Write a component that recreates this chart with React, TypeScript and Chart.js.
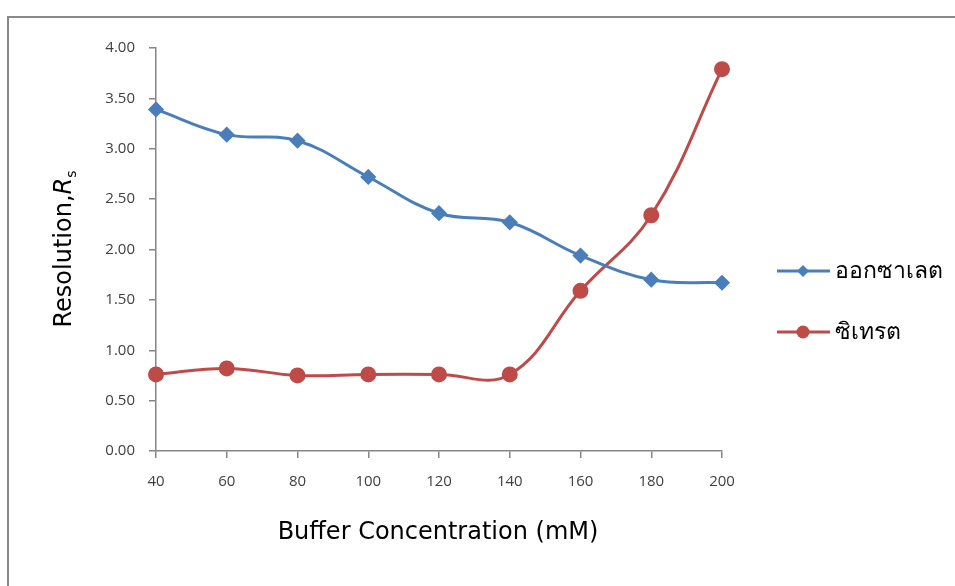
import React, { useEffect, useRef } from "react";
import { Chart, registerables } from "chart.js";

Chart.register(...registerables);

const categories = ["40", "60", "80", "100", "120", "140", "160", "180", "200"];
const oxalate = [3.39, 3.14, 3.08, 2.72, 2.36, 2.27, 1.94, 1.70, 1.67];
const citrate = [0.76, 0.82, 0.75, 0.76, 0.76, 0.76, 1.59, 2.34, 3.79];
const seriesNames = ["ออกซาเลต", "ซิเทรต"];
const seriesColors = ["#4A7EBB", "#BE4B48"];
const xTitle = "Buffer Concentration (mM)";

const FONT = "'Open Sans', 'Noto Sans', 'DejaVu Sans', sans-serif";
const TFONT = "'DejaVu Sans', 'Open Sans', sans-serif";

const overlay = {
  id: "overlay",
  afterDraw(chart: any) {
    const ctx = chart.ctx;
    ctx.save();
    // X title
    ctx.fillStyle = "#000";
    ctx.font = `24px ${TFONT}`;
    ctx.textAlign = "center";
    ctx.textBaseline = "middle";
    ctx.fillText(xTitle, 438, 533);

    // Y title rotated
    ctx.translate(65, 249);
    ctx.rotate(-Math.PI / 2);
    ctx.textAlign = "left";
    ctx.textBaseline = "middle";
    const f1 = `24px ${TFONT}`;
    const f2 = `italic 24px ${TFONT}`;
    const f3 = `14px ${TFONT}`;
    ctx.font = f1;
    const w1 = ctx.measureText("Resolution,").width;
    ctx.font = f2;
    const w2 = ctx.measureText("R").width;
    ctx.font = f3;
    const w3 = ctx.measureText("s").width;
    let x = -(w1 + w2 + w3) / 2;
    ctx.font = f1;
    ctx.fillText("Resolution,", x, 0);
    x += w1;
    ctx.font = f2;
    ctx.fillText("R", x, 0);
    x += w2;
    ctx.font = f3;
    ctx.fillText("s", x, 7);
    ctx.restore();

    // Legend
    ctx.save();
    const items = [
      { y: 271, style: "rectRot", r: 6 },
      { y: 332, style: "circle", r: 6.5 },
    ];
    items.forEach((it, i) => {
      ctx.strokeStyle = seriesColors[i];
      ctx.lineWidth = 3;
      ctx.beginPath();
      ctx.moveTo(777, it.y);
      ctx.lineTo(830, it.y);
      ctx.stroke();
      ctx.fillStyle = seriesColors[i];
      ctx.beginPath();
      if (it.style === "circle") {
        ctx.arc(803, it.y, it.r, 0, Math.PI * 2);
      } else {
        ctx.moveTo(803, it.y - it.r);
        ctx.lineTo(803 + it.r, it.y);
        ctx.lineTo(803, it.y + it.r);
        ctx.lineTo(803 - it.r, it.y);
        ctx.closePath();
      }
      ctx.fill();
      ctx.fillStyle = "#000";
      ctx.font = `23px ${FONT}`;
      ctx.textAlign = "left";
      ctx.textBaseline = "middle";
      ctx.fillText(seriesNames[i], 835, it.y);
    });
    ctx.restore();
  },
};

export default function App() {
  const ref = useRef<HTMLCanvasElement>(null);
  useEffect(() => {
    if (!ref.current) return;
    const chart = new Chart(ref.current, {
      type: "line",
      data: {
        labels: categories,
        datasets: [
          {
            label: seriesNames[0],
            data: oxalate,
            borderColor: seriesColors[0],
            backgroundColor: seriesColors[0],
            borderWidth: 3,
            tension: 0.4,
            pointStyle: "rectRot",
            pointRadius: 6,
          },
          {
            label: seriesNames[1],
            data: citrate,
            borderColor: seriesColors[1],
            backgroundColor: seriesColors[1],
            borderWidth: 3,
            tension: 0.4,
            pointStyle: "circle",
            pointRadius: 6.5,
          },
        ],
      },
      options: {
        animation: false,
        responsive: false,
        layout: { padding: { top: 48, right: 233, left: 0, bottom: 0 } },
        plugins: {
          legend: { display: false },
          tooltip: { enabled: false },
        },
        scales: {
          x: {
            offset: false,
            grid: { drawOnChartArea: false, drawTicks: true, tickLength: 7, color: "#868686", lineWidth: 1.5 },
            border: { color: "#868686", width: 1.5 },
            ticks: { color: "#404040", font: { family: FONT, size: 15 }, padding: 15, maxRotation: 0 },
            afterFit: (s: any) => { s.height = 135; },
          },
          y: {
            min: 0,
            max: 4,
            grid: { drawOnChartArea: false, drawTicks: true, tickLength: 7, color: "#868686", lineWidth: 1.5 },
            border: { color: "#868686", width: 1.5 },
            ticks: {
              stepSize: 0.5,
              color: "#404040",
              font: { family: FONT, size: 15 },
              padding: 14,
              callback: (v: any) => Number(v).toFixed(2),
            },
            afterFit: (s: any) => { s.width = 156; },
          },
        },
      },
      plugins: [overlay],
    });
    return () => chart.destroy();
  }, []);
  return (
    <div style={{ position: "fixed", left: 0, top: 0, width: 955, height: 586, background: "#fff", overflow: "hidden" }}>
      <canvas ref={ref} width={955} height={586} style={{ position: "absolute", left: 0, top: 0 }} />
      <div style={{ position: "absolute", left: 7, top: 16, width: 1200, height: 1200, border: "2px solid #888", boxSizing: "border-box", pointerEvents: "none" }} />
    </div>
  );
}
